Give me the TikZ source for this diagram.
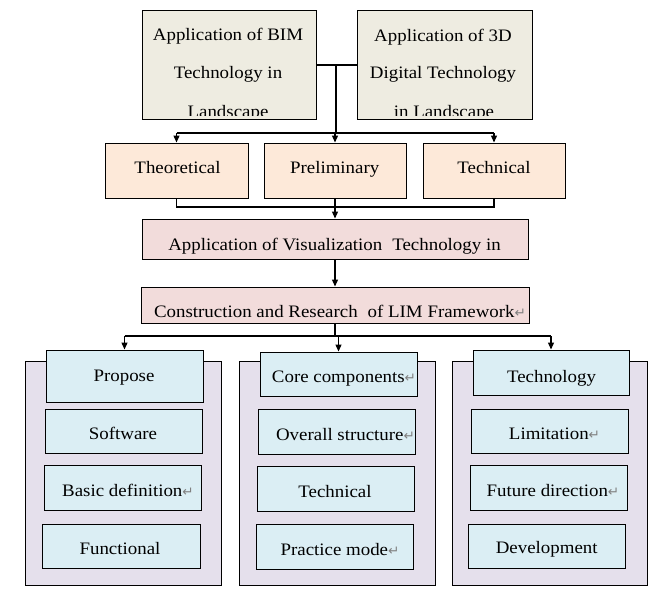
\documentclass[tikz,border=0pt]{standalone}
\usepackage{fontspec}
\setmainfont{Liberation Serif}[FakeStretch=1.08]
\newfontfamily\markfont{DejaVu Sans}
\usetikzlibrary{arrows.meta}
\definecolor{topfill}{HTML}{EEECE1}
\definecolor{peach}{HTML}{FDE9D9}
\definecolor{pinkfill}{HTML}{F2DCDB}
\definecolor{lav}{HTML}{E5E0EC}
\definecolor{lblue}{HTML}{DBEEF4}
\newcommand{\retmark}{{\markfont\fontsize{13.5}{13.5}\selectfont\color{gray}\char"21B5}}
\tikzset{
  box/.style={draw=black, line width=1pt, inner sep=0pt},
  lbl/.style={inner sep=0pt, anchor=base, font=\fontsize{17.5}{21}\selectfont},
  con/.style={line width=1.3pt},
  arr/.style={line width=1.3pt, -{Triangle[length=7pt,width=6pt]}},
}
\begin{document}
\begin{tikzpicture}[x=1pt,y=-1pt]
\useasboundingbox[fill=white] (0,0) rectangle (672,598);
% top boxes
\node[box, fill=topfill, minimum width=174, minimum height=109] (bim) at (229,64.5) {};
\node[box, fill=topfill, minimum width=175, minimum height=109] (dig) at (444.5,64.5) {};
\begin{scope}
\clip (143,11) rectangle (315,115.5);
\node[lbl] (bim1) at (228,40.7) {Application of BIM};
\node[lbl] (bim2) at (228,78.3) {Technology in};
\node[lbl] (bim3) at (228,117.5) {Landscape};
\end{scope}
\begin{scope}
\clip (358,11) rectangle (531,115.5);
\node[lbl] (dig1) at (443,41) {Application of 3D};
\node[lbl] (dig2) at (443,78) {Digital Technology};
\node[lbl] (dig3) at (444,117.5) {in Landscape};
\end{scope}
% second row
\node[box, fill=peach, minimum width=143, minimum height=55] (theo) at (176.5,170.5) {};
\node[box, fill=peach, minimum width=142, minimum height=55] (prel) at (335,170.5) {};
\node[box, fill=peach, minimum width=142, minimum height=55] (tech) at (494,170.5) {};
\node[lbl] (theot) at (177.5,173) {Theoretical};
\node[lbl] (prelt) at (334.7,173) {Preliminary};
\node[lbl] (techt) at (494,173) {Technical};
% middle boxes
\node[box, fill=pinkfill, minimum width=386, minimum height=40] (app) at (335,239) {};
\node[lbl] (appt) at (334.5,250) {Application of Visualization\hspace{0.3em} Technology in};
\node[box, fill=pinkfill, minimum width=388, minimum height=36] (cons) at (335,305) {};
\node[lbl] (const) at (340,317) {Construction and Research\hspace{0.3em} of LIM Framework\retmark};
% panels
\node[box, fill=lav, minimum width=196, minimum height=224] (pl) at (123,473) {};
\node[box, fill=lav, minimum width=196, minimum height=224] (pm) at (337,473) {};
\node[box, fill=lav, minimum width=195, minimum height=224] (pr) at (549.5,473) {};
% left column
\node[box, fill=lblue, minimum width=157, minimum height=52] (prop) at (124.5,376) {};
\node[box, fill=lblue, minimum width=157, minimum height=44] (soft) at (123.5,431) {};
\node[box, fill=lblue, minimum width=157, minimum height=45] (basic) at (122.5,487.5) {};
\node[box, fill=lblue, minimum width=158, minimum height=44] (func) at (121,546) {};
\node[lbl] (propt) at (124,381) {Propose};
\node[lbl] (softt) at (123,439) {Software};
\node[lbl] (basict) at (128,496) {Basic definition\retmark};
\node[lbl] (funct) at (120,554) {Functional};
% middle column
\node[box, fill=lblue, minimum width=157, minimum height=44] (core) at (338.5,374) {};
\node[box, fill=lblue, minimum width=157, minimum height=45] (over) at (336.5,431.5) {};
\node[box, fill=lblue, minimum width=157, minimum height=45] (techb) at (335.5,488.5) {};
\node[box, fill=lblue, minimum width=157, minimum height=45] (prac) at (334.5,546.5) {};
\node[lbl] (coret) at (344,382) {Core components\retmark};
\node[lbl] (overt) at (345.5,440) {Overall structure\retmark};
\node[lbl] (techbt) at (335,497) {Technical};
\node[lbl] (pract) at (340,555) {Practice mode\retmark};
% right column
\node[box, fill=lblue, minimum width=156, minimum height=45] (techy) at (551,372.5) {};
\node[box, fill=lblue, minimum width=157, minimum height=44] (limit) at (549.5,431) {};
\node[box, fill=lblue, minimum width=157, minimum height=45] (future) at (548.5,487.5) {};
\node[box, fill=lblue, minimum width=157, minimum height=44] (devel) at (546.5,546) {};
\node[lbl] (techyt) at (551.5,382) {Technology};
\node[lbl] (limitt) at (554.5,439) {Limitation\retmark};
\node[lbl] (futuret) at (553,496) {Future direction\retmark};
\node[lbl] (develt) at (546.7,553) {Development};
% connectors top
\coordinate (j1) at (336,64.5);
\coordinate (j2) at (336,133);
\draw[line width=2pt] (bim.east) -- (dig.west);
\draw[line width=2.8pt] (j1) -- (j2);
\draw[line width=1.6pt] (theo.north |- j2) -- (tech.north |- j2);
\draw[arr] (theo.north |- j2) -- (theo.north);
\draw[arr] (prel.north |- j2) -- (prel.north);
\draw[arr] (tech.north |- j2) -- (tech.north);
% connectors middle
\coordinate (m) at (335,207);
\draw[con] (theo.south) -- (theo.south |- m) -- (tech.south |- m) -- (tech.south);
\draw[arr] (prel.south) -- (app.north);
\draw[arr] (app.south) -- (cons.north);
% connectors bottom
\coordinate (k) at (335,336);
\draw[line width=2pt] (cons.south) -- (k);
\draw[con] (prop.north |- k) -- (techy.north |- k);
\draw[arr] (prop.north |- k) -- (prop.north);
\draw[arr] (core.north |- k) -- (core.north);
\draw[arr] (techy.north |- k) -- (techy.north);
\end{tikzpicture}
\end{document}
